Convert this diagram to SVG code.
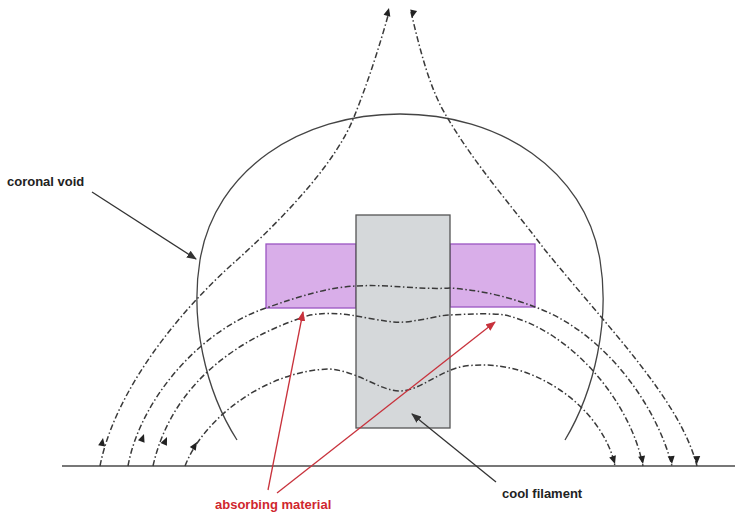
<svg xmlns="http://www.w3.org/2000/svg" width="735" height="515" viewBox="0 0 735 515">
  <defs>
    <style>
      .field { fill: none; stroke: #3a3a3a; stroke-width: 1.5; stroke-dasharray: 6 2.5 1.5 2.5; }
      .void { fill: none; stroke: #444; stroke-width: 1.3; }
      .lead { fill: none; stroke: #333; stroke-width: 1.3; }
      .redlead { fill: none; stroke: #c8323c; stroke-width: 1.3; }
      .label { font-family: "Liberation Sans", Arial, sans-serif; font-weight: bold; font-size: 13px; }
      .ah { fill: #222; }
    </style>
    <marker id="blackArrow" markerWidth="10" markerHeight="8" refX="9" refY="4" orient="auto" markerUnits="userSpaceOnUse">
      <path d="M0,0 L10,4 L0,8 Z" fill="#333"/>
    </marker>
    <marker id="redArrow" markerWidth="10" markerHeight="8" refX="9" refY="4" orient="auto" markerUnits="userSpaceOnUse">
      <path d="M0,0 L10,4 L0,8 Z" fill="#c8323c"/>
    </marker>
    <!-- small arrowhead pointing along +x, tip at origin -->
    <path id="tip" d="M0,0 L-8,-3.5 L-8,3.5 Z"/>
  </defs>

  <!-- ground -->
  <line x1="62" y1="466" x2="735" y2="466" stroke="#777" stroke-width="2"/>

  <!-- coronal void outline -->
  <g id="coronal-void">
    <path class="void" d="M237,440 C205,390 190,320 200,260 C215,170 300,114 400,114 C500,114 585,170 600,260 C610,320 595,390 565,440"/>
  </g>

  <!-- absorbing material blocks -->
  <g id="absorbing-left">
    <rect x="266" y="244" width="90" height="64" fill="#d9aee9" stroke="#9a55c2" stroke-width="1.3"/>
  </g>
  <g id="absorbing-right">
    <rect x="450" y="244" width="85" height="63" fill="#d9aee9" stroke="#9a55c2" stroke-width="1.3"/>
  </g>

  <!-- cool filament -->
  <g id="filament">
    <rect x="356" y="215" width="94" height="213" fill="#d5d8da" stroke="#555" stroke-width="1.3"/>
  </g>

  <!-- magnetic field lines -->
  <g id="field-lines">
    <path class="field" d="M100,466 C115,390 180,310 237,260 C290,212 337,160 354,117 C367,85 380,45 389,12"/>
    <path class="field" d="M411,12 C420,50 430,90 447,117 C475,165 515,210 545,250 C610,330 680,400 697,466"/>
    <path class="field" d="M128,466 C140,400 200,330 266,308 C300,296 330,287 356,286 C390,284 420,290 450,288 C480,290 510,297 535,307 C600,330 655,400 672,466"/>
    <path class="field" d="M153,466 C170,390 230,340 310,315 C330,312 345,314 356,316 C380,320 392,323 405,322 C425,320 440,315 450,315 C470,314 490,313 505,315 C570,330 630,400 643,466"/>
    <path class="field" d="M185,466 C205,415 270,370 330,369 C360,372 380,391 400,391 C420,391 440,370 465,366 C500,362 530,370 560,390 C590,410 610,440 615,466"/>
    <!-- direction arrowheads -->
    <use href="#tip" class="ah" transform="translate(389,8) rotate(-75)"/>
    <use href="#tip" class="ah" transform="translate(412,18) rotate(102)"/>
    <use href="#tip" class="ah" transform="translate(103,438) rotate(-80)"/>
    <use href="#tip" class="ah" transform="translate(144,434) rotate(-70)"/>
    <use href="#tip" class="ah" transform="translate(167,437) rotate(-66)"/>
    <use href="#tip" class="ah" transform="translate(197,442) rotate(-58)"/>
    <use href="#tip" class="ah" transform="translate(615,464) rotate(72)"/>
    <use href="#tip" class="ah" transform="translate(643,464) rotate(80)"/>
    <use href="#tip" class="ah" transform="translate(672,464) rotate(84)"/>
    <use href="#tip" class="ah" transform="translate(697,464) rotate(88)"/>
  </g>

  <!-- label leaders -->
  <g id="leaders">
    <line class="lead" x1="92" y1="192" x2="196" y2="259" marker-end="url(#blackArrow)"/>
    <line class="lead" x1="496" y1="482" x2="412" y2="414" marker-end="url(#blackArrow)"/>
    <line class="redlead" x1="268" y1="490" x2="303" y2="312" marker-end="url(#redArrow)"/>
    <line class="redlead" x1="277" y1="493" x2="495" y2="322" marker-end="url(#redArrow)"/>
  </g>

  <!-- labels -->
  <g id="labels">
    <text class="label" x="7" y="186" fill="#222">coronal void</text>
    <text class="label" x="215" y="509" fill="#d0262e">absorbing material</text>
    <text class="label" x="502" y="498" fill="#222">cool filament</text>
  </g>
</svg>
